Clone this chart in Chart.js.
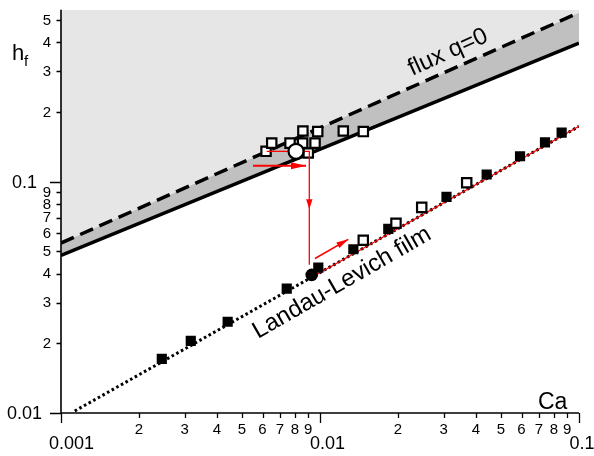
<!DOCTYPE html>
<html><head><meta charset="utf-8">
<script src="https://cdn.jsdelivr.net/npm/chart.js@4/dist/chart.umd.min.js"></script>
<style>html,body{margin:0;padding:0;background:#fff;}canvas{display:block;}</style>
</head><body>
<canvas id="c" width="594" height="456"></canvas>
<script>
// ---------- data ----------
const X_MIN = 0.001, X_MAX = 0.1;
const Y_MIN = 0.01,  Y_MAX = 0.554;

// boundary lines (two end points each)
const boundaryCa  = [0.001, 0.1];
const fluxZeroH   = [0.0543, 0.538];   // dashed "flux q=0"
const solidH      = [0.0480, 0.397];   // solid lower boundary

// Landau-Levich dotted line
const llCa = [0.00113, 0.1];
const llH  = [0.0102, 0.1735];
// red fit on the LL line
const redCa = [0.0098, 0.1];
const redH  = [0.0399, 0.1735];

// filled squares
const filledCa = [0.00245, 0.00317, 0.00440, 0.00744, 0.00985, 0.01345, 0.01835, 0.03079, 0.04401, 0.0592, 0.0739, 0.0857];
const filledH  = [0.01713, 0.02051, 0.02481, 0.03446, 0.04248, 0.05104, 0.06253, 0.08602, 0.1074, 0.1288, 0.1478, 0.1631];
// open squares, lower branch
const openLowCa = [0.01469, 0.01965, 0.0247, 0.03685];
const openLowH  = [0.0558, 0.06614, 0.07743, 0.0990];
// open squares, upper cluster
const openUpCa = [0.00619, 0.00651, 0.00766, 0.00857, 0.00859, 0.00957, 0.0098, 0.00901, 0.0123, 0.0147];
const openUpH  = [0.1353, 0.1468, 0.1468, 0.1468, 0.1657, 0.1468, 0.1647, 0.133, 0.1657, 0.1647];
// circles
const openCircleCa = [0.00808], openCircleH = [0.1353];
const fullCircleCa = [0.00929], fullCircleH = [0.03954];

// red annotation paths
const pathCa = [0.006225, 0.009093, 0.009093];
const pathH  = [0.1353, 0.1353, 0.04375];
const arrowHorCa = [0.005511, 0.008832], arrowHorH = [0.1171, 0.1171];
const arrowDiaCa = [0.009566, 0.01286],  arrowDiaH = [0.04656, 0.05633];
const arrowVerCa = [0.009093, 0.009093], arrowVerH = [0.09, 0.07596];

// ticks
const xMajorTicks  = [0.001, 0.01, 0.1];
const xMajorLabels = ['0.001', '0.01', '0.1'];
const xMinorTicks  = [0.002,0.003,0.004,0.005,0.006,0.007,0.008,0.009,0.02,0.03,0.04,0.05,0.06,0.07,0.08,0.09];
const xMinorLabels = ['2','3','4','5','6','7','8','9','2','3','4','5','6','7','8','9'];
const yMajorTicks  = [0.01, 0.1];
const yMajorLabels = ['0.01', '0.1'];
const yMinorTicks  = [0.02,0.03,0.04,0.05,0.06,0.07,0.08,0.09,0.2,0.3,0.4,0.5];
const yMinorLabels = ['2','3','4','5','6','7','8','9','2','3','4','5'];

// text annotations (anchor in data coordinates)
const fluxLabel = {text:'flux q=0', ca:0.0312, h:0.362, angle:-24.5};
const llLabel   = {text:'Landau-Levich film', ca:0.01215, h:0.0365, angle:-30};

const pts = (xs, ys) => xs.map((v, i) => ({x: v, y: ys[i]}));
const FONT = "'Liberation Sans', Arial, Helvetica, sans-serif";
const RED = '#ff0000';

function arrowHead(ctx, x0, y0, x1, y1, len, half) {
  const a = Math.atan2(y1 - y0, x1 - x0);
  ctx.save();
  ctx.translate(x1, y1); ctx.rotate(a);
  ctx.beginPath();
  ctx.moveTo(0, 0); ctx.lineTo(-len, -half); ctx.lineTo(-len, half); ctx.closePath();
  ctx.fillStyle = RED; ctx.fill();
  ctx.restore();
}

const decor = {
  id: 'decor',
  afterDatasetsDraw(chart) {
    const {ctx, scales: {x, y}} = chart;
    const P = (ca, h) => [x.getPixelForValue(ca), y.getPixelForValue(h)];
    let a = P(arrowHorCa[0], arrowHorH[0]), b = P(arrowHorCa[1], arrowHorH[1]);
    arrowHead(ctx, a[0], a[1], b[0], b[1], 15, 3.5);
    a = P(arrowDiaCa[0], arrowDiaH[0]); b = P(arrowDiaCa[1], arrowDiaH[1]);
    arrowHead(ctx, a[0], a[1], b[0], b[1], 12, 3.2);
    a = P(arrowVerCa[0], arrowVerH[0]); b = P(arrowVerCa[1], arrowVerH[1]);
    arrowHead(ctx, a[0], a[1], b[0], b[1], 10, 3.2);
  },
  afterDraw(chart) {
    const {ctx, chartArea: A, scales: {x, y}} = chart;
    ctx.save();
    ctx.strokeStyle = '#000'; ctx.fillStyle = '#000'; ctx.lineWidth = 1.6;
    // axis lines
    ctx.beginPath();
    ctx.moveTo(A.left, A.top); ctx.lineTo(A.left, A.bottom);
    ctx.moveTo(A.left, A.bottom); ctx.lineTo(A.right, A.bottom);
    ctx.stroke();
    // ticks
    ctx.lineWidth = 1.3;
    ctx.beginPath();
    yMinorTicks.forEach(v => { const py = Math.round(y.getPixelForValue(v)) + 0.5; ctx.moveTo(A.left - 4.5, py); ctx.lineTo(A.left, py); });
    yMajorTicks.forEach(v => { const py = Math.round(y.getPixelForValue(v)) + 0.5; ctx.moveTo(A.left - 11, py); ctx.lineTo(A.left, py); });
    xMinorTicks.forEach(v => { const px = Math.round(x.getPixelForValue(v)) + 0.5; ctx.moveTo(px, A.bottom); ctx.lineTo(px, A.bottom + 5); });
    xMajorTicks.forEach(v => { const px = Math.round(x.getPixelForValue(v)) + 0.5; ctx.moveTo(px, A.bottom); ctx.lineTo(px, A.bottom + 10); });
    ctx.stroke();
    // y labels
    ctx.textBaseline = 'middle';
    ctx.font = '15px ' + FONT; ctx.textAlign = 'right';
    yMinorTicks.forEach((v, i) => ctx.fillText(yMinorLabels[i], A.left - 10, y.getPixelForValue(v) + 0.5));
    ctx.font = '18px ' + FONT; ctx.textAlign = 'center';
    yMajorTicks.forEach((v, i) => ctx.fillText(yMajorLabels[i], A.left - 36.5, y.getPixelForValue(v) + 1));
    // x labels
    ctx.font = '15px ' + FONT; ctx.textAlign = 'center';
    xMinorTicks.forEach((v, i) => ctx.fillText(xMinorLabels[i], x.getPixelForValue(v), A.bottom + 16.5));
    ctx.font = '18px ' + FONT;
    const shift = [10.5, 7.5, 3];
    xMajorTicks.forEach((v, i) => ctx.fillText(xMajorLabels[i], x.getPixelForValue(v) + shift[i], A.bottom + 31.5));
    // axis titles
    ctx.textBaseline = 'alphabetic'; ctx.textAlign = 'left';
    ctx.font = '23px ' + FONT;
    ctx.fillText('Ca', A.right - 41, A.bottom - 4);
    ctx.font = '22px ' + FONT;
    ctx.fillText('h', 12, 60);
    ctx.font = '15px ' + FONT;
    ctx.fillText('f', 24, 65.5);
    // rotated annotations
    [fluxLabel, llLabel].forEach(L => {
      ctx.save();
      ctx.translate(x.getPixelForValue(L.ca), y.getPixelForValue(L.h));
      ctx.rotate(L.angle * Math.PI / 180);
      ctx.font = '24px ' + FONT; ctx.textAlign = 'center'; ctx.textBaseline = 'middle';
      ctx.fillText(L.text, 0, 0);
      ctx.restore();
    });
    ctx.restore();
  }
};

new Chart(document.getElementById('c'), {
  type: 'scatter',
  data: {
    datasets: [
      {type:'line', data: pts(boundaryCa, fluxZeroH), borderColor:'#000', borderWidth:3.5, borderDash:[14,7],
       pointRadius:0, fill:'end', backgroundColor:'#e6e6e6', order:10},
      {type:'line', data: pts(boundaryCa, solidH), borderColor:'#000', borderWidth:3.5,
       pointRadius:0, fill:'-1', backgroundColor:'#c0c0c0', order:9},
      {type:'line', data: pts(llCa, llH), borderColor:'#000', borderWidth:3, borderDash:[2.6,2.7],
       pointRadius:0, fill:false, order:8},
      {type:'line', data: pts(redCa, redH), borderColor:RED, borderWidth:1.3, pointRadius:0, fill:false, order:7},
      {data: pts(filledCa, filledH), pointStyle:'rect', pointRadius:7.2, backgroundColor:'#000', borderWidth:0, order:6},
      {data: pts(openLowCa, openLowH), pointStyle:'rect', pointRadius:6.6, backgroundColor:'#fff', borderColor:'#000', borderWidth:2.2, order:5},
      {data: pts(openUpCa, openUpH), pointStyle:'rect', pointRadius:6.6, backgroundColor:'#fff', borderColor:'#000', borderWidth:2.2, order:5},
      {type:'line', data: pts(pathCa, pathH), borderColor:RED, borderWidth:1.3, pointRadius:0, fill:false, order:4},
      {type:'line', data: pts(arrowHorCa, arrowHorH), borderColor:RED, borderWidth:2, pointRadius:0, fill:false, order:4},
      {type:'line', data: pts(arrowDiaCa, arrowDiaH), borderColor:RED, borderWidth:1.6, pointRadius:0, fill:false, order:4},
      {data: pts(openCircleCa, openCircleH), pointStyle:'circle', pointRadius:7.5, backgroundColor:'#fff', borderColor:'#000', borderWidth:2.2, order:3},
      {data: pts(fullCircleCa, fullCircleH), pointStyle:'circle', pointRadius:6.3, backgroundColor:'#000', borderWidth:0, order:2}
    ]
  },
  options: {
    responsive:false, animation:false, devicePixelRatio:1, events:[],
    layout:{padding:{left:61, right:15, top:5, bottom:43}},
    plugins:{legend:{display:false}, tooltip:{enabled:false}, filler:{drawTime:'beforeDatasetsDraw'}},
    scales:{
      x:{type:'logarithmic', min:X_MIN, max:X_MAX, display:false},
      y:{type:'logarithmic', min:Y_MIN, max:Y_MAX, display:false}
    }
  },
  plugins:[decor]
});
</script>
</body></html>
